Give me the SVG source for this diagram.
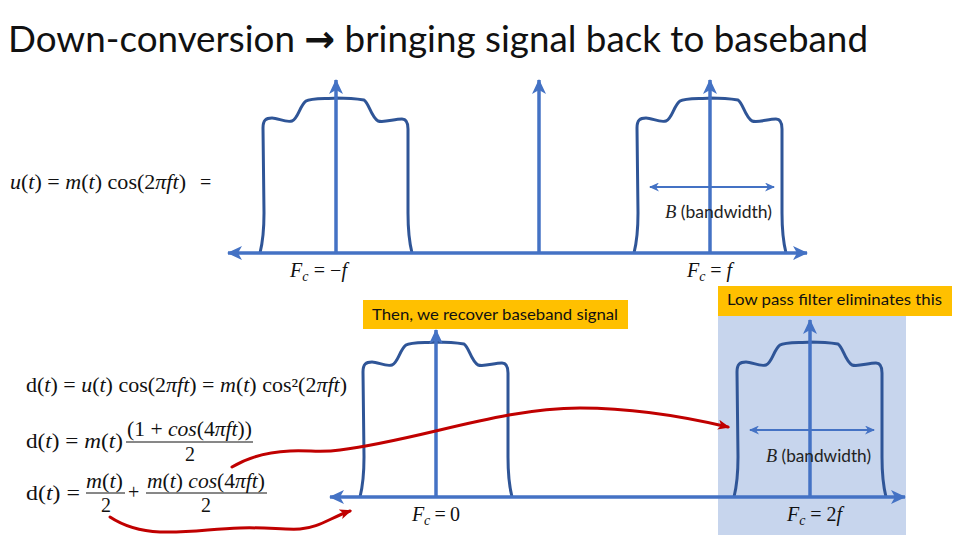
<svg xmlns="http://www.w3.org/2000/svg" xmlns:xlink="http://www.w3.org/1999/xlink" width="960" height="540" viewBox="0 0 960 540">
<style>
.ax{stroke:#4472C4;stroke-width:3.5;fill:none}
.bw{stroke:#4472C4;stroke-width:2;fill:none}
.sp{stroke:#2F5597;stroke-width:3;fill:none;stroke-linejoin:round}
.red{stroke:#C00000;stroke-width:3;fill:none;stroke-linecap:round}
.m{font-family:"Liberation Serif","DejaVu Serif",serif;font-size:20px;fill:#111}
.i{font-style:italic}
.lbl{font-family:"Liberation Serif","DejaVu Serif",serif;font-size:20px;fill:#111}
.bwt{font-family:Lato,"Liberation Sans",sans-serif;font-size:17px;fill:#222}
.note{font-family:Lato,"Liberation Sans",sans-serif;font-size:15px;fill:#111}
</style>
<defs>
<marker id="ah" markerUnits="userSpaceOnUse" markerWidth="16" markerHeight="14" refX="14" refY="7" orient="auto-start-reverse"><path d="M0,0 L15,7 L0,14 L4,7 Z" fill="#4472C4"/></marker>
<marker id="ahs" markerUnits="userSpaceOnUse" markerWidth="10" markerHeight="9" refX="9" refY="4.5" orient="auto-start-reverse"><path d="M0,0 L10,4.5 L0,9 L3,4.5 Z" fill="#4472C4"/></marker>
<marker id="ahr" markerUnits="userSpaceOnUse" markerWidth="12" markerHeight="10" refX="10" refY="5" orient="auto"><path d="M0,0 L12,5 L0,10 L3,5 Z" fill="#C00000"/></marker>
<path id="spec" d="M-76,0 C-73,-12 -72,-22 -72,-40 L-73,-125 C-73,-133 -70,-135 -64,-135 C-58,-135 -50,-130 -44,-132 C-38,-134 -36,-148 -30,-152 C-25,-155 -10,-154 0,-155 C12,-155 22,-154 28,-153 C33,-150 35,-136 42,-132 C48,-130 58,-134 66,-134 C71,-134 72,-130 72,-124 L72,-40 C72,-22 73,-12 76,0"/>
</defs>

<text x="8" y="52" font-family="Lato,'Liberation Sans',sans-serif" font-size="37" fill="#111" textLength="860" lengthAdjust="spacingAndGlyphs">Down-conversion <tspan font-family="'DejaVu Sans',sans-serif" font-weight="bold">→</tspan> bringing signal back to baseband</text>

<g id="eq-u">
<text class="m" x="10" y="189" textLength="176" lengthAdjust="spacingAndGlyphs"><tspan class="i">u</tspan>(<tspan class="i">t</tspan>) = <tspan class="i">m</tspan>(<tspan class="i">t</tspan>) cos(2<tspan class="i">πft</tspan>)</text>
<text class="m" x="200" y="189">=</text>
</g>

<g id="top-spectrum">
<use xlink:href="#spec" href="#spec" class="sp" transform="translate(336,253)"/>
<use xlink:href="#spec" href="#spec" class="sp" transform="translate(710,253)"/>
</g>
<g id="top-axes">
<line class="ax" x1="805" y1="253" x2="228" y2="253" marker-end="url(#ah)"/>
<line class="ax" x1="805" y1="253" x2="807" y2="253" marker-end="url(#ah)"/>
<line class="ax" x1="336" y1="253" x2="336" y2="80" marker-end="url(#ah)"/>
<line class="ax" x1="539" y1="253" x2="539" y2="80" marker-end="url(#ah)"/>
<line class="ax" x1="710" y1="253" x2="710" y2="80" marker-end="url(#ah)"/>
<line class="bw" x1="650" y1="187" x2="774" y2="187" marker-start="url(#ahs)" marker-end="url(#ahs)"/>
</g>
<g id="top-labels">
<text x="665" y="218" class="bwt" textLength="107" lengthAdjust="spacingAndGlyphs"><tspan font-family="'Liberation Serif',serif" font-style="italic" font-size="18">B</tspan> (bandwidth)</text>
<text x="290" y="277" class="lbl" textLength="57" lengthAdjust="spacing"><tspan class="i">F</tspan><tspan class="i" font-size="14" dy="4">c</tspan><tspan dy="-4"> = −</tspan><tspan class="i">f</tspan></text>
<text x="687" y="277" class="lbl" textLength="45" lengthAdjust="spacing"><tspan class="i">F</tspan><tspan class="i" font-size="14" dy="4">c</tspan><tspan dy="-4"> = </tspan><tspan class="i">f</tspan></text>
</g>

<g id="lpf-region">
<rect x="718" y="316" width="188" height="219" fill="#C7D5ED"/>
</g>
<g id="note-lpf">
<rect x="718" y="286" width="234" height="30" fill="#FFC000"/>
<text x="727" y="305" class="note" textLength="215" lengthAdjust="spacingAndGlyphs">Low pass filter eliminates this</text>
</g>
<g id="note-baseband">
<rect x="363" y="300" width="265" height="29" fill="#FFC000"/>
<text x="372" y="320" class="note" textLength="246" lengthAdjust="spacingAndGlyphs">Then, we recover baseband signal</text>
</g>

<g id="eq-d">
<text class="m" x="26" y="392" textLength="321" lengthAdjust="spacingAndGlyphs">d(<tspan class="i">t</tspan>) = <tspan class="i">u</tspan>(<tspan class="i">t</tspan>) cos(2<tspan class="i">πft</tspan>) = <tspan class="i">m</tspan>(<tspan class="i">t</tspan>) cos²(2<tspan class="i">πft</tspan>)</text>
<text class="m" x="26" y="448" textLength="97" lengthAdjust="spacingAndGlyphs">d(<tspan class="i">t</tspan>) = <tspan class="i">m</tspan>(<tspan class="i">t</tspan>)</text>
<text class="m" x="127" y="436" textLength="125" lengthAdjust="spacingAndGlyphs">(1 + <tspan class="i">cos</tspan>(4<tspan class="i">πft</tspan>))</text>
<line x1="126" y1="442" x2="253" y2="442" stroke="#111" stroke-width="1"/>
<text class="m" x="190" y="461" text-anchor="middle">2</text>
<text class="m" x="26" y="500" textLength="54" lengthAdjust="spacingAndGlyphs">d(<tspan class="i">t</tspan>) =</text>
<text class="m" x="86" y="488" textLength="37" lengthAdjust="spacingAndGlyphs"><tspan class="i">m</tspan>(<tspan class="i">t</tspan>)</text>
<line x1="86" y1="493" x2="125" y2="493" stroke="#111" stroke-width="1"/>
<text class="m" x="106" y="512" text-anchor="middle">2</text>
<text class="m" x="128" y="499">+</text>
<text class="m" x="147" y="488" textLength="118" lengthAdjust="spacingAndGlyphs"><tspan class="i">m</tspan>(<tspan class="i">t</tspan>) <tspan class="i">cos</tspan>(4<tspan class="i">πft</tspan>)</text>
<line x1="146" y1="493" x2="267" y2="493" stroke="#111" stroke-width="1"/>
<text class="m" x="206" y="512" text-anchor="middle">2</text>
</g>

<g id="bottom-spectrum">
<use xlink:href="#spec" href="#spec" class="sp" transform="translate(436,497)"/>
<use xlink:href="#spec" href="#spec" class="sp" transform="translate(810,497)"/>
</g>
<g id="bottom-axes">
<line class="ax" x1="903" y1="497" x2="330" y2="497" marker-end="url(#ah)"/>
<line class="ax" x1="903" y1="497" x2="905" y2="497" marker-end="url(#ah)"/>
<line class="ax" x1="436" y1="497" x2="436" y2="330" marker-end="url(#ah)"/>
<line class="ax" x1="810" y1="497" x2="810" y2="320" marker-end="url(#ah)"/>
<line class="bw" x1="750" y1="430" x2="874" y2="430" marker-start="url(#ahs)" marker-end="url(#ahs)"/>
</g>
<g id="bottom-labels">
<text x="766" y="462" class="bwt" textLength="105" lengthAdjust="spacingAndGlyphs"><tspan font-family="'Liberation Serif',serif" font-style="italic" font-size="18">B</tspan> (bandwidth)</text>
<text x="412" y="521" class="lbl" textLength="48" lengthAdjust="spacing"><tspan class="i">F</tspan><tspan class="i" font-size="14" dy="4">c</tspan><tspan dy="-4"> = 0</tspan></text>
<text x="787" y="521" class="lbl" textLength="55" lengthAdjust="spacing"><tspan class="i">F</tspan><tspan class="i" font-size="14" dy="4">c</tspan><tspan dy="-4"> = 2</tspan><tspan class="i">f</tspan></text>
</g>

<g id="connectors">
<path class="red" d="M232,467 C250,456 268,452 290,451 C310,450 320,453 340,450 C420,440 500,408 580,408 C640,408 690,418 728,427" marker-end="url(#ahr)"/>
<path class="red" d="M110,517 C125,527 140,531 160,532 C190,533 210,529 240,528 C265,527 285,530 300,529 C318,528 330,518 350,511" marker-end="url(#ahr)"/>
</g>
</svg>
